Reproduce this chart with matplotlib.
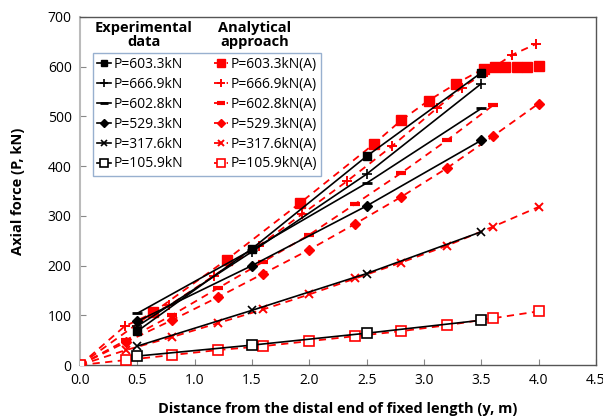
import matplotlib
matplotlib.use("Agg")
import matplotlib.pyplot as plt

plt.rcParams['font.family'] = ['Open Sans', 'DejaVu Sans']

# Experimental data (x at 0.5, 1.5, 2.5, 3.5)
exp_x = [0.5, 1.5, 2.5, 3.5]
exp_603 = [68, 234, 420, 588]
exp_667 = [78, 228, 384, 566]
exp_603b = [104, 232, 366, 516]
exp_529 = [88, 200, 320, 452]
exp_318 = [38, 110, 184, 268]
exp_106 = [18, 40, 64, 90]

# Analytical approach
ana_603_x = [0, 0.64, 1.28, 1.92, 2.56, 2.80, 3.04, 3.28, 3.52, 3.62, 3.71, 3.81, 3.90, 4.0]
ana_603 = [0, 106, 212, 326, 444, 492, 532, 566, 596, 600, 600, 600, 600, 602]
ana_667_x = [0, 0.39, 0.78, 1.17, 1.56, 1.94, 2.33, 2.72, 3.11, 3.33, 3.55, 3.77, 3.98]
ana_667 = [0, 78, 120, 180, 240, 304, 370, 440, 516, 558, 590, 624, 646]
ana_603b_x = [0, 0.4, 0.8, 1.2, 1.6, 2.0, 2.4, 2.8, 3.2, 3.6]
ana_603b = [0, 50, 100, 154, 208, 262, 324, 386, 452, 522]
ana_x = [0, 0.4, 0.8, 1.2, 1.6, 2.0, 2.4, 2.8, 3.2, 3.6, 4.0]
ana_529 = [0, 46, 90, 136, 184, 232, 284, 338, 396, 460, 526]
ana_318 = [0, 30, 56, 84, 112, 142, 174, 206, 240, 278, 318]
ana_106 = [0, 10, 20, 30, 38, 48, 58, 68, 80, 94, 108]

exp_labels = ["P=603.3kN", "P=666.9kN", "P=602.8kN", "P=529.3kN", "P=317.6kN", "P=105.9kN"]
ana_labels = [l + "(A)" for l in exp_labels]

fig = plt.figure(figsize=(6.03, 4.19), dpi=100)
ax = fig.add_axes([80/603, 1-365/419, 516/603, 348/419])

red = '#ff0000'
handles = []
exp_series = [exp_603, exp_667, exp_603b, exp_529, exp_318, exp_106]
exp_markers = [dict(marker='s', ms=6, mfc='black'),
               dict(marker='+', ms=7.5, mew=1.2),
               dict(marker='_', ms=7, mew=2),
               dict(marker='D', ms=5.5, mfc='black'),
               dict(marker='x', ms=6, mew=1.2),
               dict(marker='s', ms=7, mfc='white', mew=1.2)]
for ys, m, lab in zip(exp_series, exp_markers, exp_labels):
    h, = ax.plot(exp_x, ys, color='black', lw=1.2, mec='black', label=lab, zorder=4, **m)
    handles.append(h)

ana_series = [(ana_603_x, ana_603), (ana_667_x, ana_667), (ana_603b_x, ana_603b),
              (ana_x, ana_529), (ana_x, ana_318), (ana_x, ana_106)]
ana_markers = [dict(marker='s', ms=7, mfc=red),
               dict(marker='+', ms=7.5, mew=1.4),
               dict(marker='_', ms=7, mew=3),
               dict(marker='D', ms=5.5, mfc=red),
               dict(marker='x', ms=6, mew=1.4),
               dict(marker='s', ms=7, mfc='white', mew=1.2)]
for (xs, ys), m, lab in zip(ana_series, ana_markers, ana_labels):
    h, = ax.plot(xs, ys, color=red, lw=1.3, ls=(0, (4, 3)), mec=red, label=lab, zorder=3, **m)
    handles.append(h)

ax.set_xlim(0, 4.5)
ax.set_ylim(0, 700)
ax.set_xticks([0, 0.5, 1.0, 1.5, 2.0, 2.5, 3.0, 3.5, 4.0, 4.5])
ax.set_xticklabels(['0.0', '0.5', '1.0', '1.5', '2.0', '2.5', '3.0', '3.5', '4.0', '4.5'])
ax.set_yticks(range(0, 701, 100))
ax.tick_params(direction='in', length=4, color='#888888', labelsize=10, pad=6)
for s in ['top', 'right', 'bottom']:
    ax.spines[s].set_color('#555555')
    ax.spines[s].set_linewidth(1.0)
ax.spines['left'].set_color('#bbbbbb')
ax.spines['left'].set_linewidth(1.5)

ax.set_xlabel('Distance from the distal end of fixed length (y, m)', fontsize=10.5, fontweight='bold', labelpad=10)
ax.set_ylabel('Axial force (P, kN)', fontsize=10.5, fontweight='bold', labelpad=16)

leg = ax.legend(handles=handles, ncol=2, loc='upper left', bbox_to_anchor=((93-80)/516, (365-53)/348),
                borderaxespad=0, fontsize=10, handlelength=1.0, handletextpad=0.2, columnspacing=2.2,
                labelspacing=0.35, frameon=True, fancybox=False, borderpad=0.3, markerscale=0.75)
leg.get_frame().set_edgecolor('#7f9cc4')
leg.get_frame().set_linewidth(1.0)

fig.text(144/603, 1-35/419, 'Experimental\ndata', ha='center', va='center', fontsize=10.5,
         fontweight='bold', linespacing=1.0)
fig.text(255/603, 1-35/419, 'Analytical\napproach', ha='center', va='center', fontsize=10.5,
         fontweight='bold', linespacing=1.0)

fig.savefig('out.png', dpi=100)
